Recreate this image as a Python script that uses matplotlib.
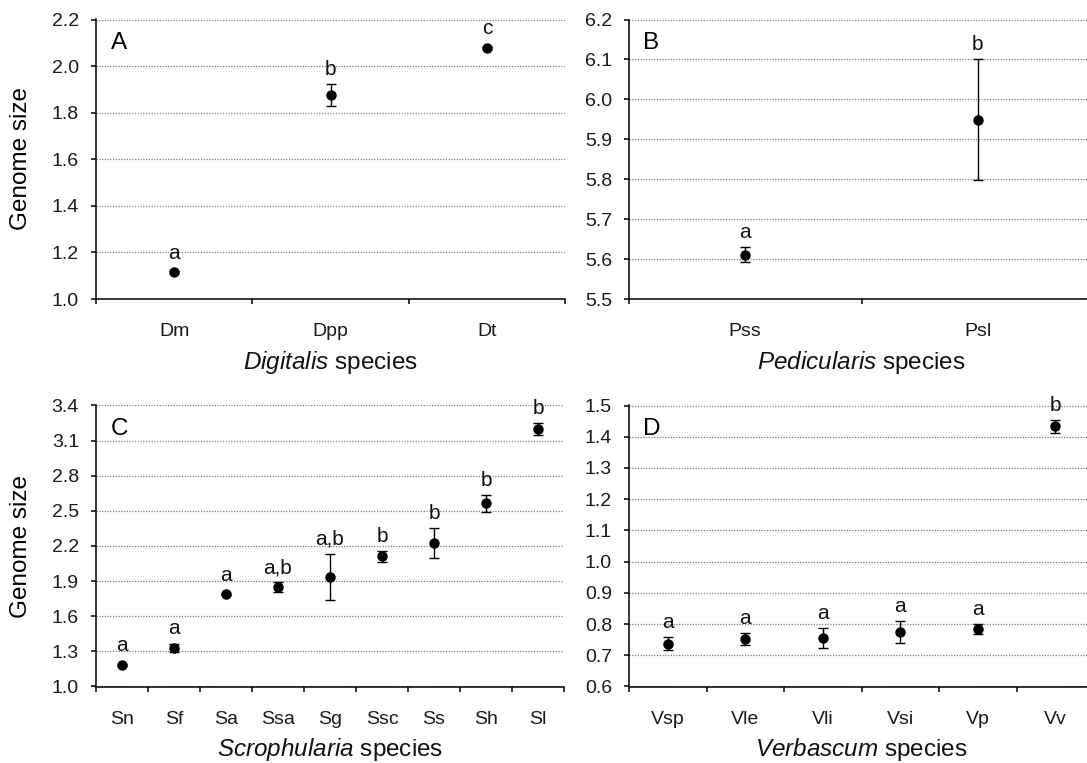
import matplotlib
matplotlib.use('Agg')
import matplotlib.pyplot as plt
import numpy as np

plt.rcParams['font.family'] = ['Liberation Sans', 'DejaVu Sans']
plt.rcParams['mathtext.fontset'] = 'custom'
plt.rcParams['mathtext.rm'] = 'Liberation Sans'
plt.rcParams['mathtext.it'] = 'Liberation Sans:italic'

# ---------------- data ----------------
dig_species = ['Dm', 'Dpp', 'Dt']
dig_mean = [1.115, 1.876, 2.078]
dig_err = [0.005, 0.047, 0.005]
dig_letters = ['a', 'b', 'c']

ped_species = ['Pss', 'Psl']
ped_mean = [5.611, 5.949]
ped_err = [0.018, 0.151]
ped_letters = ['a', 'b']

scr_species = ['Sn', 'Sf', 'Sa', 'Ssa', 'Sg', 'Ssc', 'Ss', 'Sh', 'Sl']
scr_mean = [1.186, 1.329, 1.788, 1.850, 1.936, 2.111, 2.223, 2.564, 3.199]
scr_err = [0.010, 0.035, 0.010, 0.040, 0.197, 0.045, 0.127, 0.070, 0.050]
scr_letters = ['a', 'a', 'a', 'a,b', 'a,b', 'b', 'b', 'b', 'b']

ver_species = ['Vsp', 'Vle', 'Vli', 'Vsi', 'Vp', 'Vv']
ver_mean = [0.7375, 0.7515, 0.7557, 0.775, 0.7826, 1.4335]
ver_err = [0.020, 0.020, 0.031, 0.036, 0.016, 0.020]
ver_letters = ['a', 'a', 'a', 'a', 'a', 'b']

W, H, DPI = 1087, 763, 100
fig = plt.figure(figsize=(W / DPI, H / DPI), dpi=DPI)


def rect(left, right, top, bottom):
    return [left / W, 1 - bottom / H, (right - left) / W, (bottom - top) / H]


def panel(r, species, mean, err, letters, lo, hi, step, tag, genus):
    ax = fig.add_axes(r)
    n = len(species)
    x = np.arange(n) + 0.5
    ax.set_xlim(0, n)
    ax.set_ylim(lo, hi)
    ax.set_axisbelow(True)
    ax.yaxis.grid(True, linestyle=(0, (1, 1.2)), color='#808080', linewidth=0.9)
    for s in ['top', 'right']:
        ax.spines[s].set_visible(False)
    for s in ['left', 'bottom']:
        ax.spines[s].set_linewidth(1.1)
        ax.spines[s].set_color('black')
    yt = np.arange(lo, hi + step / 2, step)
    ax.set_yticks(yt)
    ax.set_yticklabels([f'{v:.1f}' for v in yt])
    ax.set_xticks(np.arange(n + 1))
    ax.set_xticklabels([''] * (n + 1))
    ax.set_xticks(x, minor=True)
    ax.set_xticklabels(species, minor=True)
    ax.tick_params(axis='x', which='major', length=3.8, width=1.1, direction='out')
    ax.tick_params(axis='x', which='minor', length=0, pad=17.5, labelsize=14, labelcolor='#1a1a1a')
    ax.tick_params(axis='y', length=3.8, width=1.1, direction='out', pad=8.5,
                   labelsize=14, labelcolor='#1a1a1a')
    ax.errorbar(x, mean, yerr=err, fmt='o', color='black', markersize=6.5,
                elinewidth=1.0, capsize=3.8, capthick=1.0)
    px_per_unit = r[3] * H / (hi - lo)
    for xi, m, e, lab in zip(x, mean, err, letters):
        off_px = max(e * px_per_unit, 4.5) + 9
        ax.annotate(lab, (xi, m), xytext=(0, off_px * 72 / DPI), textcoords='offset points',
                    ha='center', va='baseline', fontsize=15, color='#111111')
    ax.text(0.031, 0.956, tag, transform=ax.transAxes, fontsize=17.5, ha='left', va='top')
    ax.text(0.5, -63 / (r[3] * H), r'$\it{' + genus + '}$ species', transform=ax.transAxes,
            ha='center', va='center', fontsize=17.5, color='#111111')
    return ax


rA = rect(96, 565, 19.5, 299)
rB = rect(629, 1094, 19.5, 299)
rC = rect(96, 564, 405.5, 686.5)
rD = rect(629, 1094, 405.5, 686.5)

panel(rA, dig_species, dig_mean, dig_err, dig_letters, 1.0, 2.2, 0.2, 'A', 'Digitalis')
panel(rB, ped_species, ped_mean, ped_err, ped_letters, 5.5, 6.2, 0.1, 'B', 'Pedicularis')
panel(rC, scr_species, scr_mean, scr_err, scr_letters, 1.0, 3.4, 0.3, 'C', 'Scrophularia')
panel(rD, ver_species, ver_mean, ver_err, ver_letters, 0.6, 1.5, 0.1, 'D', 'Verbascum')

fig.text(21 / W, 1 - 159 / H, 'Genome size', rotation=90, ha='center', va='center', fontsize=17.5)
fig.text(21 / W, 1 - 546 / H, 'Genome size', rotation=90, ha='center', va='center', fontsize=17.5)

fig.savefig('out.png', dpi=DPI)
